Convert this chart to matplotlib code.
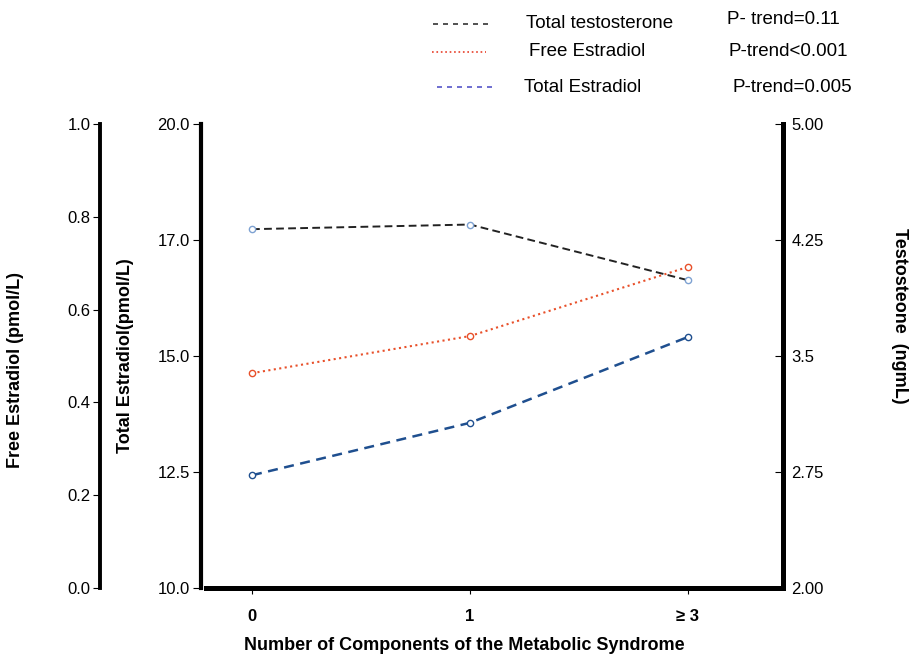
import numpy as np
import matplotlib.pyplot as plt
from matplotlib.lines import Line2D

plt.rcParams['font.family'] = ['Liberation Sans', 'DejaVu Sans']

# data
groups = ['0', '1', '\u2265 3']
total_testosterone = [4.32, 4.35, 3.99]    # ng/mL, right axis
free_estradiol = [0.463, 0.543, 0.692]     # pmol/L, outer left axis
total_estradiol = [12.43, 13.56, 15.41]    # pmol/L, inner left axis

legend_names = ['Total testosterone', 'Free Estradiol', 'Total Estradiol']
p_trends = ['P- trend=0.11', 'P-trend<0.001', 'P-trend=0.005']

W, H = 918, 667
x = np.arange(len(groups))

fig = plt.figure(figsize=(W / 100, H / 100), dpi=100)
ax = fig.add_axes([201 / W, 1 - 588 / H, 582 / W, 464 / H])
ax_t = ax.twinx()
ax_f = ax.twinx()

# total estradiol (inner left)
ax.plot(x, total_estradiol, color='#1f4f8f', lw=1.8, dashes=(4, 2.6),
        marker='o', ms=4.5, mfc='white', mec='#1f4f8f', mew=1.0)
ax.set_ylim(10, 20)
ax.set_yticks([10, 12.5, 15, 17.5, 20])
ax.set_yticklabels(['10.0', '12.5', '15.0', '17.0', '20.0'], fontsize=12)
ax.set_xlim(-0.234, 2.436)
ax.set_xticks(x)
ax.set_xticklabels(groups, fontsize=12, fontweight='bold')
ax.tick_params(axis='x', length=4, width=0.8, pad=11)
ax.tick_params(axis='y', length=6, width=0.8, pad=2)
ax.spines['top'].set_visible(False)
ax.spines['right'].set_visible(False)
ax.spines['left'].set_linewidth(3.0)
ax.spines['bottom'].set_linewidth(3.6)
ax.spines['bottom'].set_bounds(-0.21, 2.436)
ax.set_ylabel('Total Estradiol(pmol/L)', fontsize=13, fontweight='bold')
ax.yaxis.set_label_coords(-0.115, 0.5)
ax.set_xlabel('Number of Components of the Metabolic Syndrome',
              fontsize=13, fontweight='bold')
ax.xaxis.set_label_coords(0.453, -0.105)

# total testosterone (right)
ax_t.plot(x, total_testosterone, color='#222222', lw=1.4, dashes=(4, 2.2),
          marker='o', ms=4.5, mfc='white', mec='#7ea2d2', mew=1.0)
ax_t.set_ylim(2, 5)
ax_t.set_yticks([2, 2.75, 3.5, 4.25, 5])
ax_t.set_yticklabels(['2.00', '2.75', '3.5', '4.25', '5.00'], fontsize=12)
ax_t.tick_params(axis='y', direction='in', length=6, width=0.8, pad=6)
for s in ['top', 'left', 'bottom']:
    ax_t.spines[s].set_visible(False)
ax_t.spines['right'].set_linewidth(3.6)
ax_t.set_ylabel('Testosteone  (ngmL)', fontsize=13, fontweight='bold',
                rotation=270, va='center', ha='center')
ax_t.yaxis.set_label_coords(1.201, 0.586)

# free estradiol (outer left)
ax_f.plot(x, free_estradiol, color='#e8502a', lw=1.5, ls=':',
          marker='o', ms=4.5, mfc='white', mec='#e8502a', mew=1.0)
ax_f.set_ylim(0, 1)
ax_f.yaxis.set_ticks_position('left')
ax_f.yaxis.set_label_position('left')
ax_f.set_yticks(np.arange(0, 1.01, 0.2))
ax_f.set_yticklabels(['0.0', '0.2', '0.4', '0.6', '0.8', '1.0'])
for s in ['top', 'right', 'bottom']:
    ax_f.spines[s].set_visible(False)
ax_f.spines['left'].set_visible(True)
ax_f.spines['left'].set_position(('axes', -0.1735))
ax_f.spines['left'].set_linewidth(2.8)
ax_f.tick_params(axis='y', length=5, width=0.8, pad=2, labelsize=12)
ax_f.set_ylabel('Free Estradiol (pmol/L)', fontsize=13, fontweight='bold')
ax_f.yaxis.set_label_coords(-0.304, 0.47)

# hand-made legend at the top
leg_styles = [dict(color='#333333', lw=1.2, dashes=(3, 3)),
              dict(color='#e8402a', lw=1.2, ls=':'),
              dict(color='#5555c8', lw=1.2, dashes=(3, 3))]
leg_line_x = [(433, 490), (432, 486), (437, 493)]
leg_line_y = [24, 52, 87]
leg_text_x = [526, 529, 524]
leg_text_y = [23, 52, 87]
p_x = [727, 729, 733]
p_y = [19, 51, 87]
for i in range(3):
    x0, x1 = leg_line_x[i]
    fig.add_artist(Line2D([x0 / W, x1 / W], [1 - leg_line_y[i] / H] * 2,
                          transform=fig.transFigure, **leg_styles[i]))
    fig.text(leg_text_x[i] / W, 1 - leg_text_y[i] / H, legend_names[i],
             va='center', ha='left', fontsize=13.5)
    fig.text(p_x[i] / W, 1 - p_y[i] / H, p_trends[i],
             va='center', ha='left', fontsize=13.5)

fig.savefig('out.png', dpi=100)
